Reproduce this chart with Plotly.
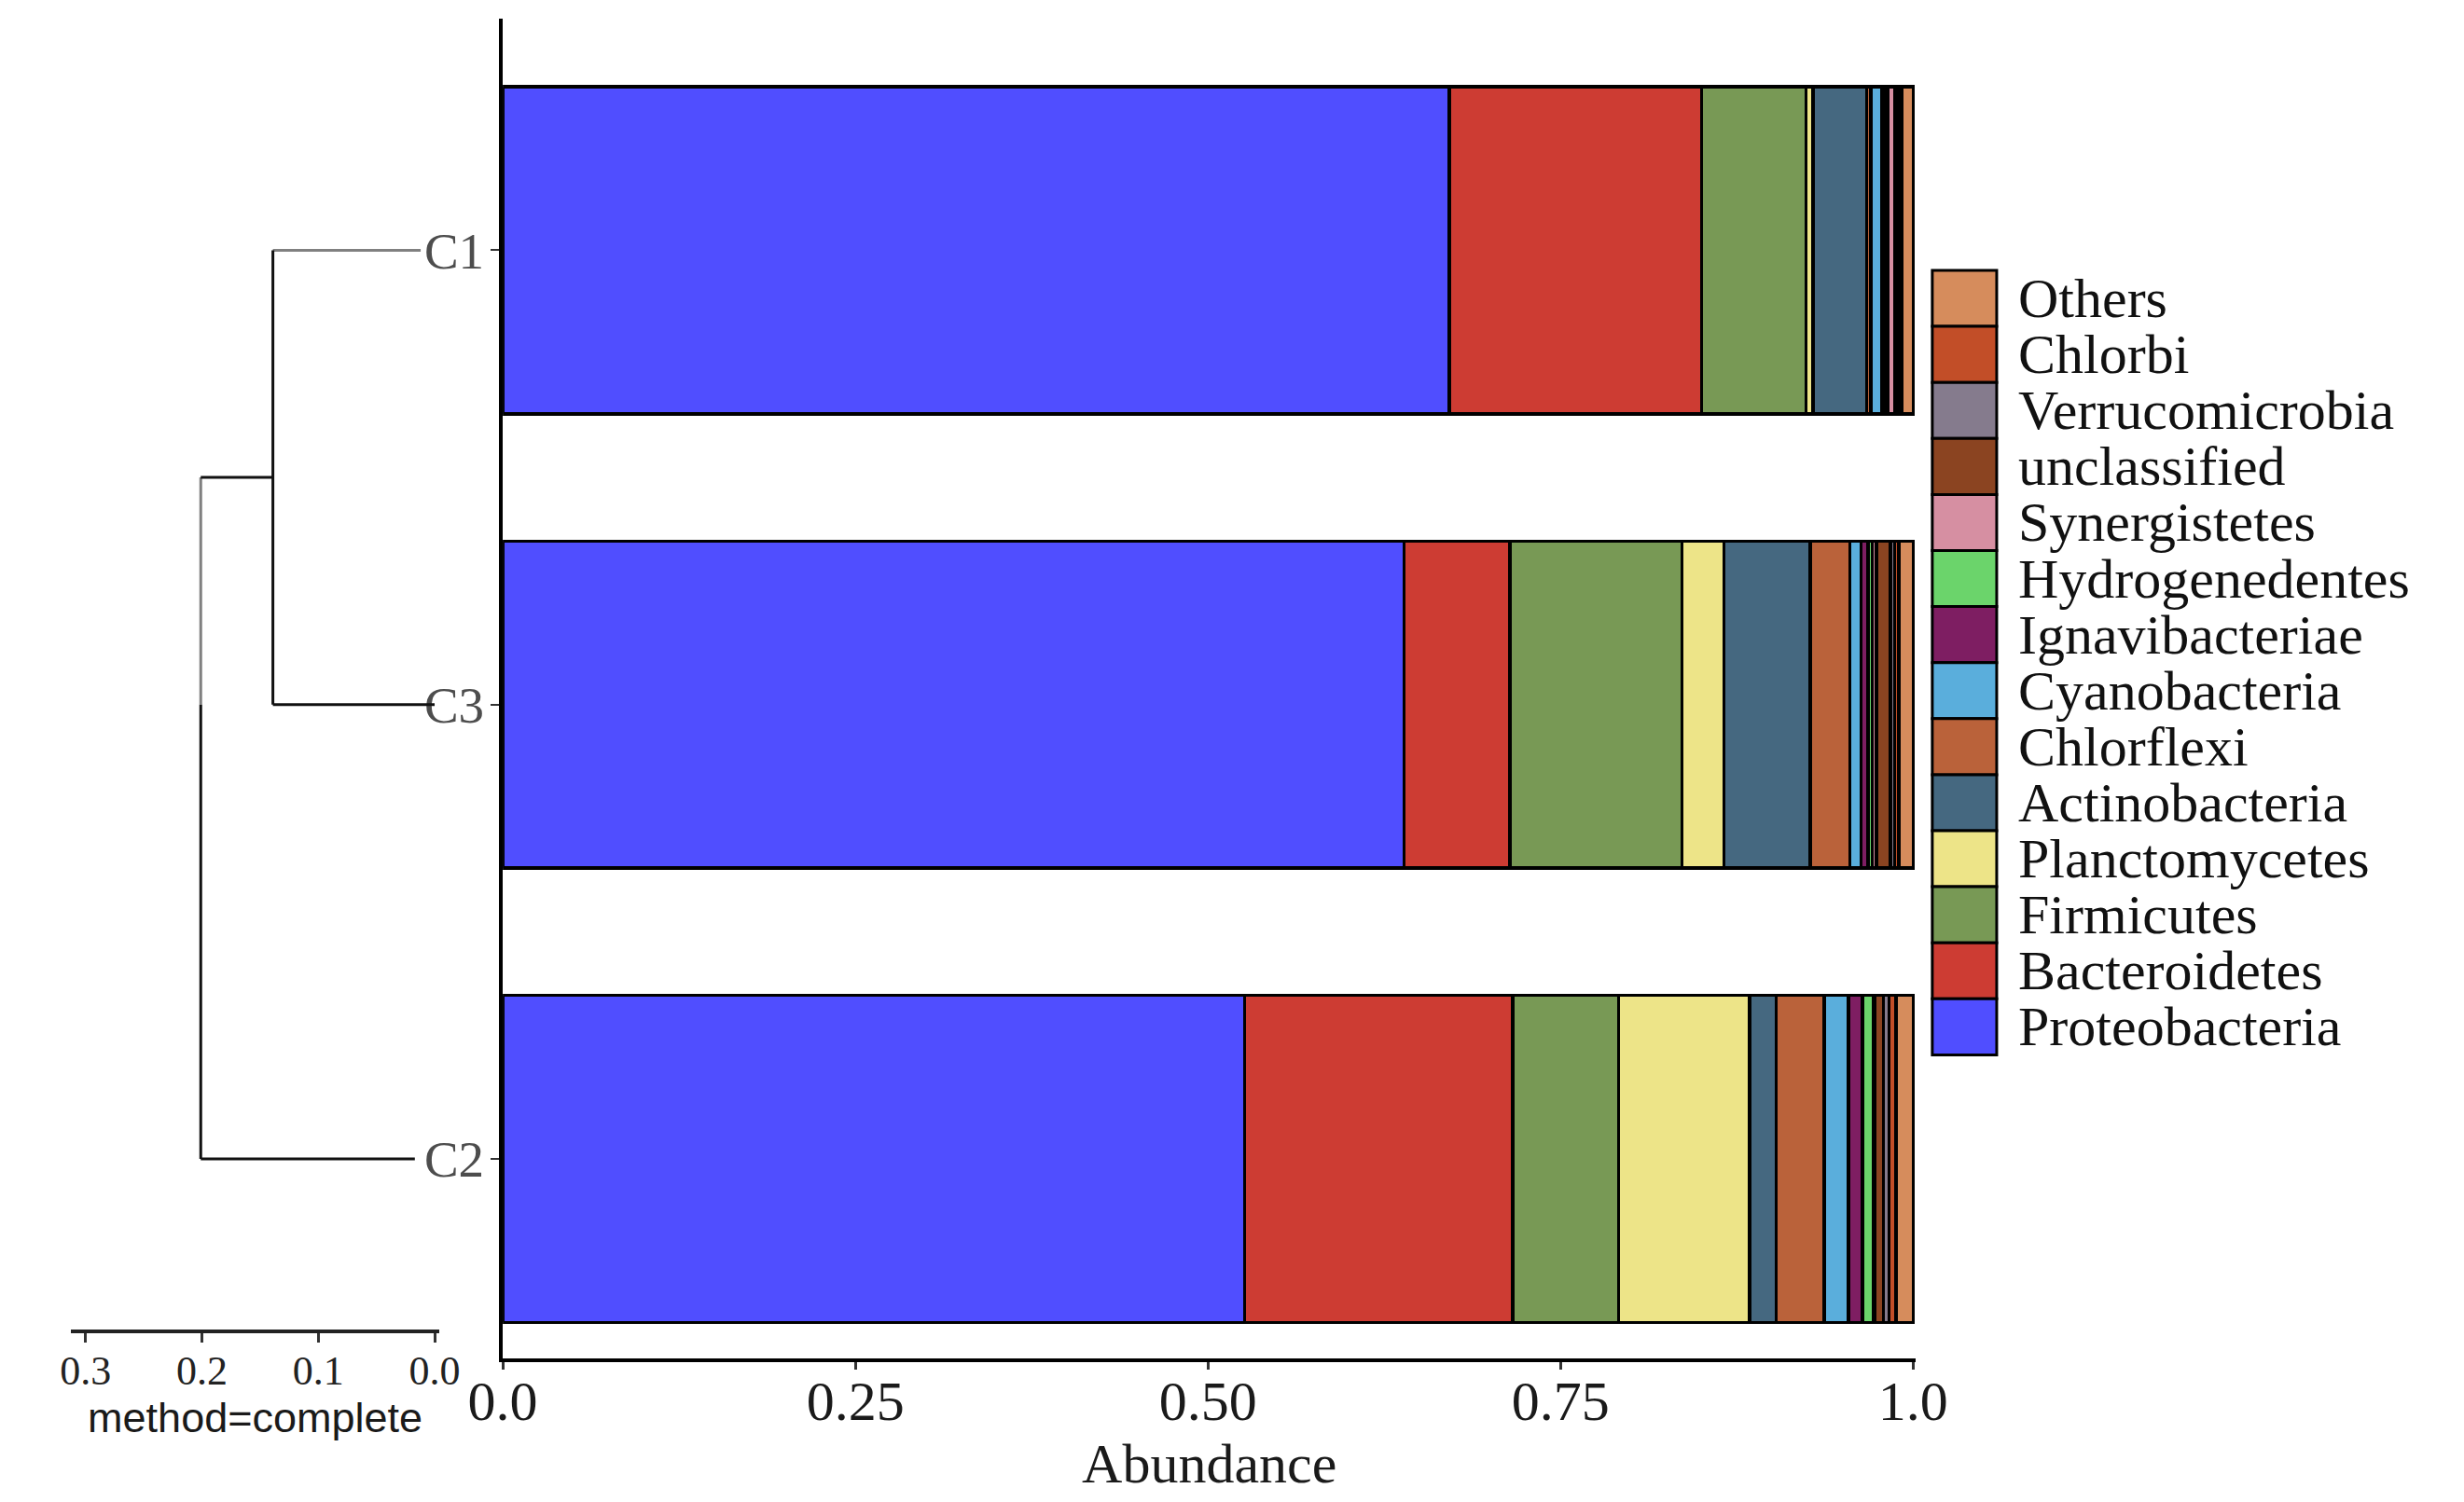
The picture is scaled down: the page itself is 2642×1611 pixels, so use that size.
import plotly.graph_objects as go

# ---------------------------
# Data
# ---------------------------
samples = ["C1", "C3", "C2"]
sample_order = ["C2", "C3", "C1"]  # bottom -> top

phyla = ["Proteobacteria", "Bacteroidetes", "Firmicutes", "Planctomycetes",
         "Actinobacteria", "Chlorflexi", "Cyanobacteria", "Ignavibacteriae",
         "Hydrogenedentes", "Synergistetes", "unclassified", "Verrucomicrobia",
         "Chlorbi", "Others"]

colors = ["#504EFF", "#CD3C33", "#789955", "#EDE488",
          "#456880", "#BA623A", "#5AAEDC", "#7E1E62",
          "#6BD46B", "#D68FA2", "#8B4421", "#857B8D",
          "#C24E28", "#D68C5C"]

c1 = [0.671, 0.179, 0.074, 0.005, 0.038, 0.003, 0.008, 0.002,
      0.002, 0.005, 0.002, 0.0015, 0.0015, 0.008]
c3 = [0.639, 0.075, 0.122, 0.030, 0.061, 0.028, 0.008, 0.005,
      0.003, 0.003, 0.010, 0.003, 0.003, 0.010]
c2 = [0.526, 0.190, 0.075, 0.093, 0.019, 0.034, 0.017, 0.010,
      0.008, 0.001, 0.006, 0.004, 0.005, 0.012]
abundance = {"C1": c1, "C3": c3, "C2": c2}

x_tickvals = [0, 0.25, 0.5, 0.75, 1.0]
x_ticktext = ["0.0", "0.25", "0.50", "0.75", "1.0"]

# hierarchical clustering (complete linkage) heights
merge_c1_c3 = 0.139
merge_root = 0.201
leaf_end = {"C1": 0.012, "C3": 0.0, "C2": 0.017}
dendro_ticks = [0.0, 0.1, 0.2, 0.3]

# ---------------------------
# Layout helpers (screen pixel -> paper)
# the page body keeps its 8px margin, so the figure is a bit smaller
# ---------------------------
OFF = 8
W, H = 2642 - 2 * OFF, 1611 - 2 * OFF


def px(x):
    return (x - OFF) / W


def py(y):
    return 1 - (y - OFF) / H


SERIF = "Liberation Serif"
SANS = "Liberation Sans"

fig = go.Figure()

# ---------------------------
# Stacked bars
# ---------------------------
for i, name in enumerate(phyla):
    fig.add_trace(go.Bar(
        y=samples,
        x=[abundance[s][i] for s in samples],
        orientation="h",
        name=name,
        marker=dict(color=colors[i], line=dict(color="black", width=3.5)),
        width=0.72,
        xaxis="x", yaxis="y",
    ))

# ---------------------------
# Dendrogram
# ---------------------------
pos = {s: k for k, s in enumerate(sample_order)}
node_y = (pos["C1"] + pos["C3"]) / 2

gray_segs = [
    ([merge_c1_c3, leaf_end["C1"]], [pos["C1"], pos["C1"]]),
    ([merge_root, merge_root], [node_y, pos["C3"]]),
]
black_segs = [
    ([merge_c1_c3, leaf_end["C3"]], [pos["C3"], pos["C3"]]),
    ([merge_c1_c3, merge_c1_c3], [pos["C3"], pos["C1"]]),
    ([merge_root, merge_c1_c3], [node_y, node_y]),
    ([merge_root, merge_root], [pos["C3"], pos["C2"]]),
    ([merge_root, leaf_end["C2"]], [pos["C2"], pos["C2"]]),
]
for segs, col in [(gray_segs, "#808080"), (black_segs, "#111111")]:
    for xs, ys in segs:
        fig.add_trace(go.Scatter(
            x=xs, y=ys, mode="lines",
            line=dict(color=col, width=3),
            showlegend=False, hoverinfo="skip",
            xaxis="x2", yaxis="y2",
        ))

# ---------------------------
# Manual legend (large boxes)
# ---------------------------
shapes = []
annotations = []
leg_top, leg_row = 290, 60.1
for i, name in enumerate(reversed(phyla)):
    col = colors[phyla.index(name)]
    top = leg_top + leg_row * i
    shapes.append(dict(
        type="rect", xref="paper", yref="paper",
        x0=px(2091), x1=px(2162), y0=py(top + leg_row), y1=py(top),
        fillcolor=col, line=dict(color="black", width=3),
    ))
    annotations.append(dict(
        x=px(2184), y=py(top + leg_row / 2), xref="paper", yref="paper",
        text=name, showarrow=False, xanchor="left", yanchor="middle",
        font=dict(family=SERIF, size=60, color="#111111"),
    ))

# ---------------------------
# Axes
# ---------------------------
band = 487.3          # pixels per category
c2_px = 1243          # pixel row of the bottom category
main_bottom, main_top = 1457, 20
dendro_bottom = 1426

fig.update_layout(
    width=W, height=H,
    margin=dict(l=0, r=0, t=0, b=0),
    paper_bgcolor="white", plot_bgcolor="white",
    barmode="stack", showlegend=False,
    shapes=shapes, annotations=annotations,
    xaxis=dict(
        domain=[px(515), px(2073)], range=[0, 1.002], anchor="y",
        tickvals=x_tickvals, ticktext=x_ticktext,
        ticks="outside", ticklen=8, tickwidth=3, tickcolor="#333333",
        ticklabelstandoff=-18,
        showline=True, linecolor="black", linewidth=4,
        showgrid=False, zeroline=False,
        tickfont=dict(family=SERIF, size=60, color="#1a1a1a"),
        title=dict(text="Abundance", standoff=14,
                   font=dict(family=SERIF, size=60, color="#1a1a1a")),
    ),
    yaxis=dict(
        domain=[py(main_bottom), py(main_top)], anchor="x",
        type="category", categoryorder="array", categoryarray=sample_order,
        range=[-(main_bottom - c2_px) / band, (c2_px - main_top) / band],
        ticks="outside", ticklen=9, tickwidth=2, tickcolor="#333333",
        ticklabelstandoff=-4,
        showline=True, linecolor="black", linewidth=4,
        showgrid=False, zeroline=False,
        tickfont=dict(family=SERIF, size=55, color="#4d4d4d"),
    ),
    xaxis2=dict(
        domain=[px(39), px(445)], range=[0.3125, -0.004], anchor="y2",
        tickvals=dendro_ticks, tickformat=".1f",
        ticks="outside", ticklen=10, tickwidth=3, tickcolor="#333333",
        ticklabelstandoff=-8,
        showline=True, linecolor="#222222", linewidth=4,
        showgrid=False, zeroline=False,
        tickfont=dict(family=SERIF, size=44, color="#222222"),
        title=dict(text="method=complete", standoff=4,
                   font=dict(family=SANS, size=45, color="#1a1a1a")),
    ),
    yaxis2=dict(
        domain=[py(dendro_bottom), py(main_top)], anchor="x2",
        range=[-(dendro_bottom - c2_px) / band, (c2_px - main_top) / band],
        visible=False,
    ),
)

fig.write_html("out.html")
